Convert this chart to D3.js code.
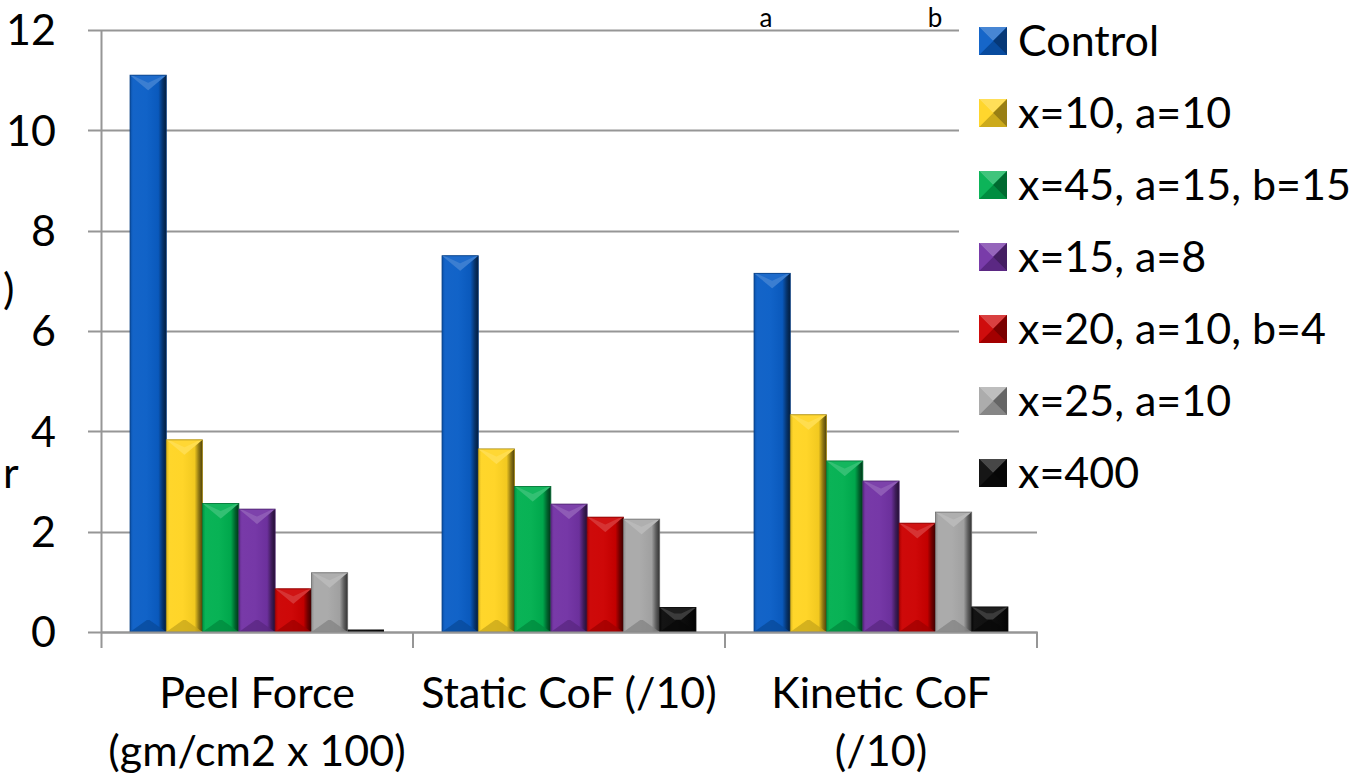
<!DOCTYPE html>
<html>
<head>
<meta charset="utf-8">
<script src="https://cdn.jsdelivr.net/npm/d3@7"></script>
<style>
  html, body { margin: 0; padding: 0; background: #fff; }
  svg { display: block; }
  text { font-family: Lato, "Open Sans", sans-serif; fill: #000; }
</style>
</head>
<body>
<svg id="chart" width="1353" height="776"></svg>
<script>
// ---- data ----
const categories = ["Peel Force", "Static CoF", "Kinetic CoF"];
const categoryLabelLines = [["Peel Force", "(gm/cm2 x 100)"], ["Static CoF (/10)"], ["Kinetic CoF", "(/10)"]];
const seriesNames = ["Control", "x=10, a=10", "x=45, a=15, b=15", "x=15, a=8", "x=20, a=10, b=4", "x=25, a=10", "x=400"];
const controlValues = [11.1, 7.5, 7.15];
const x10Values = [3.83, 3.65, 4.33];
const x45Values = [2.56, 2.9, 3.41];
const x15Values = [2.45, 2.55, 3.01];
const x20Values = [0.86, 2.29, 2.17];
const x25Values = [1.18, 2.25, 2.39];
const x400Values = [0.05, 0.49, 0.5];
const yTicks = [0, 2, 4, 6, 8, 10, 12];
const seriesColors = ["#0A5EC6", "#FFD422", "#00B050", "#7232A4", "#CC0000", "#A8A8A8", "#0A0A0A"];

const seriesValues = [controlValues, x10Values, x45Values, x15Values, x20Values, x25Values, x400Values];

// ---- layout ----
const svg = d3.select("#chart");
const plot = { left: 101, right: 1037, top: 30, bottom: 632 };
const FS = "43px";

const x0 = d3.scaleBand().domain(categories).range([plot.left, plot.right]).paddingInner(0).paddingOuter(0);
const x1 = d3.scaleBand().domain(seriesNames).range([0, x0.bandwidth()]).paddingOuter(0.8).paddingInner(0);
const y = d3.scaleLinear().domain([0, 12]).range([plot.bottom, plot.top]);

const defs = svg.append("defs");

function shade(c, k) {
  const col = d3.rgb(c);
  return k >= 0 ? d3.interpolateRgb(col, "#fff")(k) : d3.interpolateRgb(col, "#000")(-k);
}

seriesColors.forEach((c, i) => {
  const g = defs.append("linearGradient").attr("id", "side" + i).attr("x1", "0").attr("x2", "1").attr("y1", "0").attr("y2", "0");
  g.append("stop").attr("offset", "0").attr("stop-color", shade(c, -0.15));
  g.append("stop").attr("offset", "0.08").attr("stop-color", shade(c, 0.04));
  g.append("stop").attr("offset", "0.45").attr("stop-color", shade(c, 0.03));
  g.append("stop").attr("offset", "0.78").attr("stop-color", shade(c, -0.05));
  g.append("stop").attr("offset", "0.9").attr("stop-color", shade(c, -0.45));
  g.append("stop").attr("offset", "1").attr("stop-color", shade(c, -0.7));
});

// ---- gridlines ----
const grid = svg.append("g");
grid.selectAll("line").data(yTicks).join("line")
  .attr("x1", plot.left - 13).attr("x2", plot.right)
  .attr("y1", d => Math.round(y(d)) + 0.5).attr("y2", d => Math.round(y(d)) + 0.5)
  .attr("stroke", "#969696").attr("stroke-width", 2);

svg.append("g").selectAll("text").data(yTicks).join("text")
  .attr("x", plot.left - 45).attr("y", d => y(d))
  .attr("dy", "0.36em").attr("text-anchor", "end")
  .style("font-size", FS)
  .text(d => d);

// y axis line
svg.append("line").attr("x1", plot.left + 0.5).attr("x2", plot.left + 0.5)
  .attr("y1", plot.top).attr("y2", plot.bottom + 16)
  .attr("stroke", "#969696").attr("stroke-width", 2);

// category boundary ticks
const boundaries = categories.map(c => x0(c)).concat([x0(categories[categories.length - 1]) + x0.bandwidth()]);
svg.append("g").selectAll("line").data(boundaries.slice(1)).join("line")
  .attr("x1", d => d).attr("x2", d => d)
  .attr("y1", plot.bottom).attr("y2", plot.bottom + 16)
  .attr("stroke", "#969696").attr("stroke-width", 2);

// ---- bars ----
const barsG = svg.append("g");
categories.forEach((cat, ci) => {
  seriesNames.forEach((s, si) => {
    const v = seriesValues[si][ci];
    const bx = x0(cat) + x1(s);
    const bw = x1.bandwidth();
    const top = y(v);
    const bot = y(0);
    const h = bot - top;
    const c = seriesColors[si];
    const g = barsG.append("g");
    g.append("rect").attr("x", bx).attr("y", top).attr("width", bw).attr("height", h)
      .attr("fill", `url(#side${si})`);
    if (h > 6) {
      const d = Math.min(15, h / 2);
      const inset = Math.min(bw / 2, d * 1.2);
      g.append("polygon")
        .attr("points", [[bx, top], [bx + bw, top], [bx + bw - inset, top + d], [bx + inset, top + d]].map(p => p.join(",")).join(" "))
        .attr("fill", shade(c, 0.2));
      g.append("polygon")
        .attr("points", [[bx + 2, top], [bx + bw - 2, top], [bx + bw - inset, top + d * 0.5], [bx + inset, top + d * 0.5]].map(p => p.join(",")).join(" "))
        .attr("fill", shade(c, 0.08));
      const bd = Math.min(12, h / 2);
      const binset = Math.min(bw / 2, bd * 1.4);
      g.append("polygon")
        .attr("points", [[bx, bot], [bx + bw, bot], [bx + bw - binset, bot - bd], [bx + binset, bot - bd]].map(p => p.join(",")).join(" "))
        .attr("fill", shade(c, -0.22)).attr("opacity", 0.75);
      g.append("rect").attr("x", bx).attr("y", top).attr("width", bw).attr("height", h)
        .attr("fill", "none").attr("stroke", shade(c, -0.35)).attr("stroke-width", 0.8);
    }
  });
});

// x axis baseline
svg.append("line").attr("x1", plot.left).attr("x2", plot.right + 1)
  .attr("y1", plot.bottom + 0.5).attr("y2", plot.bottom + 0.5)
  .attr("stroke", "#969696").attr("stroke-width", 2);

// ---- category labels ----
const catG = svg.append("g");
categories.forEach((cat, ci) => {
  const cx = x0(cat) + x0.bandwidth() / 2;
  categoryLabelLines[ci].forEach((line, li) => {
    catG.append("text").attr("x", cx).attr("y", 708 + li * 58)
      .attr("text-anchor", "middle").style("font-size", FS).text(line);
  });
});

// ---- legend (white box over plot) ----
const legend = svg.append("g");
legend.append("rect").attr("x", 959).attr("y", 0).attr("width", 394).attr("height", 506).attr("fill", "#fff");
const legendY = d3.scalePoint().domain(seriesNames).range([41, 473]);
seriesNames.forEach((s, i) => {
  const cy = legendY(s);
  const c = seriesColors[i];
  const sz = 28, lx = 979, ly = cy - sz / 2;
  const lg = legend.append("g");
  lg.append("rect").attr("x", lx).attr("y", ly).attr("width", sz).attr("height", sz).attr("fill", c);
  const cxm = lx + sz / 2, cym = ly + sz / 2;
  lg.append("polygon").attr("points", `${lx},${ly} ${lx + sz},${ly} ${cxm},${cym}`).attr("fill", shade(c, 0.25));
  lg.append("polygon").attr("points", `${lx},${ly + sz} ${lx + sz},${ly + sz} ${cxm},${cym}`).attr("fill", shade(c, -0.2));
  lg.append("polygon").attr("points", `${lx + sz},${ly} ${lx + sz},${ly + sz} ${cxm},${cym}`).attr("fill", shade(c, -0.4));
  lg.append("polygon").attr("points", `${lx},${ly} ${lx},${ly + sz} ${cxm},${cym}`).attr("fill", shade(c, 0.05));
  lg.append("text").attr("x", 1018).attr("y", cy).attr("dy", "0.36em")
    .style("font-size", FS).text(s);
});

// ---- fragments of titles at the edges ----
svg.append("text").attr("x", 766).attr("y", 27).attr("text-anchor", "middle").style("font-size", "26px").text("a");
svg.append("text").attr("x", 935).attr("y", 27).attr("text-anchor", "middle").style("font-size", "26px").text("b");
svg.append("text").attr("x", 3).attr("y", 304).attr("text-anchor", "start").style("font-size", FS).text(")");
svg.append("text").attr("x", 3).attr("y", 488).attr("text-anchor", "start").style("font-size", FS).text("r");
</script>
</body>
</html>
